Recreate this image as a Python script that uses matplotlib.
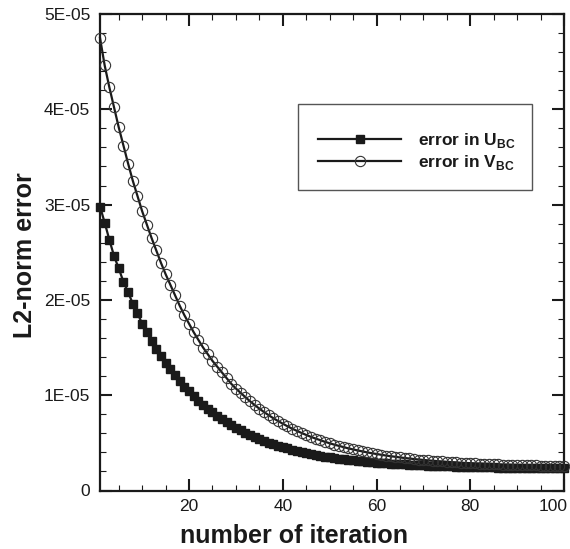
import numpy as np
import matplotlib
matplotlib.use("Agg")
import matplotlib.pyplot as plt
from matplotlib.ticker import MultipleLocator, FixedLocator, FuncFormatter
from matplotlib.patches import Rectangle
from matplotlib.transforms import ScaledTranslation

plt.rcParams['font.family'] = ['Liberation Sans', 'DejaVu Sans']
plt.rcParams['mathtext.fontset'] = 'custom'
plt.rcParams['mathtext.rm'] = 'Liberation Sans'
plt.rcParams['mathtext.bf'] = 'Liberation Sans:bold'

# iteration numbers
iterations = list(range(1, 101))

# L2-norm error, in units of 1E-05
error_u = [
    2.98, 2.81, 2.63, 2.46, 2.33, 2.19, 2.08, 1.96, 1.86, 1.75,
    1.66, 1.57, 1.49, 1.41, 1.34, 1.27, 1.21, 1.15, 1.09, 1.04,
    0.99, 0.94, 0.90, 0.86, 0.82, 0.78, 0.75, 0.715, 0.685, 0.657,
    0.630, 0.605, 0.582, 0.560, 0.540, 0.521, 0.503, 0.486, 0.470, 0.455,
    0.441, 0.428, 0.416, 0.404, 0.393, 0.383, 0.374, 0.365, 0.356, 0.349,
    0.341, 0.334, 0.328, 0.322, 0.316, 0.311, 0.306, 0.301, 0.297, 0.293,
    0.289, 0.285, 0.282, 0.278, 0.275, 0.273, 0.270, 0.267, 0.265, 0.263,
    0.261, 0.259, 0.257, 0.255, 0.254, 0.252, 0.251, 0.250, 0.248, 0.247,
    0.246, 0.245, 0.244, 0.243, 0.242, 0.241, 0.240, 0.240, 0.240, 0.239,
    0.239, 0.239, 0.239, 0.238, 0.238, 0.237, 0.237, 0.237, 0.236, 0.236,
]
error_v = [
    4.75, 4.46, 4.23, 4.02, 3.81, 3.62, 3.43, 3.25, 3.09, 2.93,
    2.79, 2.65, 2.52, 2.39, 2.27, 2.16, 2.05, 1.94, 1.84, 1.75,
    1.66, 1.58, 1.50, 1.43, 1.36, 1.30, 1.24, 1.18, 1.12, 1.07,
    1.025, 0.980, 0.937, 0.897, 0.859, 0.823, 0.790, 0.758, 0.729, 0.701,
    0.674, 0.649, 0.626, 0.604, 0.583, 0.563, 0.545, 0.528, 0.511, 0.496,
    0.481, 0.468, 0.455, 0.442, 0.431, 0.420, 0.410, 0.400, 0.391, 0.383,
    0.375, 0.367, 0.360, 0.354, 0.347, 0.341, 0.336, 0.330, 0.325, 0.321,
    0.316, 0.312, 0.308, 0.305, 0.301, 0.298, 0.295, 0.292, 0.289, 0.287,
    0.284, 0.282, 0.280, 0.278, 0.276, 0.274, 0.272, 0.271, 0.269, 0.268,
    0.267, 0.265, 0.264, 0.263, 0.262, 0.261, 0.260, 0.259, 0.258, 0.257,
]
scale = 1e-5

x_ticks = [20, 40, 60, 80, 100]
y_ticks = [0, 1e-5, 2e-5, 3e-5, 4e-5, 5e-5]
y_tick_labels = ['0', '1E-05', '2E-05', '3E-05', '4E-05', '5E-05']
labels = [r'error in U$_{\mathbf{BC}}$', r'error in V$_{\mathbf{BC}}$']

fig = plt.figure(figsize=(5.70, 5.49), dpi=100)
ax = fig.add_axes([100/570, 1 - 490.5/549, 464/570, 476.5/549])

lu, = ax.plot(iterations, np.array(error_u) * scale, color='#1a1a1a', lw=1.6,
              marker='s', ms=5.8, mfc='#1a1a1a', mec='#1a1a1a', clip_on=False,
              zorder=3, label=labels[0])
lv, = ax.plot(iterations, np.array(error_v) * scale, color='#1a1a1a', lw=1.6,
              marker='o', ms=7.4, mfc='none', mec='#333333', mew=0.8,
              clip_on=False, zorder=3, label=labels[1])

ax.set_xlim(1, 100)
ax.set_ylim(0, 5e-5)
ax.xaxis.set_major_locator(FixedLocator(x_ticks))
ax.xaxis.set_minor_locator(MultipleLocator(5))
ax.yaxis.set_major_locator(FixedLocator(y_ticks))
ax.yaxis.set_minor_locator(MultipleLocator(0.2e-5))
ax.yaxis.set_major_formatter(FuncFormatter(
    lambda v, p: y_tick_labels[int(round(v / 1e-5))] if abs(v / 1e-5 - round(v / 1e-5)) < 1e-6 else ''))
ax.xaxis.set_major_formatter(FuncFormatter(lambda v, p: f'{int(v)}'))

ax.tick_params(which='both', direction='in', top=True, right=True, color='#1a1a1a')
ax.tick_params(which='major', length=8.6, width=1.5, labelsize=12.5, labelcolor='#1a1a1a')
ax.tick_params(axis='y', which='major', pad=7)
ax.tick_params(axis='x', which='major', pad=6)
ax.tick_params(which='minor', length=4.3, width=0.8)
for s in ax.spines.values():
    s.set_linewidth(1.6)
    s.set_color('#1a1a1a')

# keep the last x tick label inside the figure, as in the reference
fig.canvas.draw()
last = ax.xaxis.get_major_ticks()[-1].label1
last.set_horizontalalignment('right')
last.set_transform(last.get_transform() + ScaledTranslation(4/100, 0, fig.dpi_scale_trans))

fig.text(294/570, 1 - 543/549, 'number of iteration', ha='center', va='baseline',
         fontsize=18, fontweight='bold', color='#1a1a1a')
fig.text(25/570, 1 - 255/549, 'L2-norm error', ha='center', va='center',
         rotation=90, fontsize=18, fontweight='bold', color='#1a1a1a')

# legend box
x0 = (298 - 100) / 464
x1 = (532 - 100) / 464
y0 = (490.5 - 190) / 476.5
y1 = (490.5 - 104) / 476.5
ax.add_patch(Rectangle((x0, y0), x1 - x0, y1 - y0, transform=ax.transAxes,
                       fill=False, ec='#555555', lw=1.0, zorder=4))
fs = 12.5
fpx = fs * 100 / 72
leg = ax.legend(handles=[lu, lv], loc='upper left',
                bbox_to_anchor=((318 - 100) / 464, (490.5 - 131) / 476.5),
                frameon=False, borderpad=0, borderaxespad=0,
                handlelength=83 / fpx, handletextpad=17 / fpx,
                labelspacing=0.15, numpoints=1,
                prop={'family': 'Liberation Sans', 'weight': 'bold', 'size': fs})
for t in leg.get_texts():
    t.set_color('#1a1a1a')

fig.savefig('out.png', dpi=100)
